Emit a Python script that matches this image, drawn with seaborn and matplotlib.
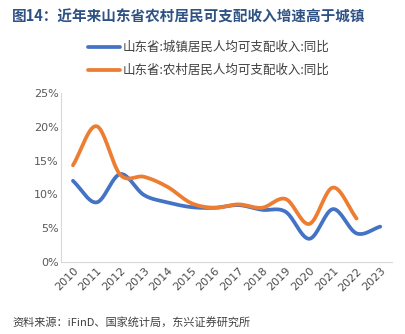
import numpy as np
import pandas as pd
import matplotlib
matplotlib.use("Agg")
import matplotlib.pyplot as plt
import seaborn as sns

years = [str(y) for y in range(2010, 2024)]
urban_growth = [12.0, 8.8, 13.0, 9.9, 8.8, 8.1, 8.0, 8.4, 7.7, 7.4, 3.4, 7.8, 4.2, 5.2]
rural_growth = [14.3, 20.1, 12.9, 12.6, 11.1, 8.7, 8.0, 8.5, 8.0, 9.3, 5.6, 11.0, 6.4, None]
urban_label = "山东省:城镇居民人均可支配收入:同比"
rural_label = "山东省:农村居民人均可支配收入:同比"
y_ticks = [0, 5, 10, 15, 20, 25]

sns.set_theme(style="white")
plt.rcParams["font.family"] = ["Noto Sans CJK SC", "DejaVu Sans"]


def smooth(values, steps=20):
    """Catmull-Rom curve through the points, like a smoothed office-chart line."""
    pts = [(i, v) for i, v in enumerate(values) if v is not None]
    xs = np.array([p[0] for p in pts], dtype=float)
    ys = np.array([p[1] for p in pts], dtype=float)
    px = np.concatenate([[2 * xs[0] - xs[1]], xs, [2 * xs[-1] - xs[-2]]])
    py = np.concatenate([[2 * ys[0] - ys[1]], ys, [2 * ys[-1] - ys[-2]]])
    out_x, out_y = [], []
    t = np.linspace(0, 1, steps, endpoint=False)
    for k in range(1, len(px) - 2):
        p0, p1, p2, p3 = py[k - 1], py[k], py[k + 1], py[k + 2]
        q0, q1, q2, q3 = px[k - 1], px[k], px[k + 1], px[k + 2]
        def cr(a0, a1, a2, a3):
            return 0.5 * ((2 * a1) + (-a0 + a2) * t + (2 * a0 - 5 * a1 + 4 * a2 - a3) * t ** 2
                          + (-a0 + 3 * a1 - 3 * a2 + a3) * t ** 3)
        out_x.extend(cr(q0, q1, q2, q3))
        out_y.extend(cr(p0, p1, p2, p3))
    out_x.append(xs[-1])
    out_y.append(ys[-1])
    return np.array(out_x), np.array(out_y)


frames = []
for label, vals in [(urban_label, urban_growth), (rural_label, rural_growth)]:
    sx, sy = smooth(vals)
    frames.append(pd.DataFrame({"x": sx, "y": sy, "series": label}))
df = pd.concat(frames, ignore_index=True)

fig = plt.figure(figsize=(4.05, 3.34), dpi=100)
ax = fig.add_axes([0.151, 0.2165, 0.817, 0.5045])

palette = {urban_label: "#4472C4", rural_label: "#ED7D31"}
sns.lineplot(data=df, x="x", y="y", hue="series", palette=palette, linewidth=2.7,
             sort=False, estimator=None, ax=ax, legend=False)

ax.set_xlim(-0.5, len(years) - 0.5)
ax.set_ylim(0, 25)
ax.set_xticks(range(len(years)))
ax.set_xticklabels(years, rotation=45, ha="right", rotation_mode="anchor",
                   fontsize=8, color="#4D4D4D", family="DejaVu Sans")
ax.set_yticks(y_ticks)
ax.set_yticklabels([f"{v}%" for v in y_ticks], fontsize=8, color="#595959", family="DejaVu Sans")
ax.tick_params(axis="both", length=0, pad=2)
ax.tick_params(axis="x", pad=3)
ax.set_xlabel("")
ax.set_ylabel("")
for side in ["top", "right"]:
    ax.spines[side].set_visible(False)
for side in ["left", "bottom"]:
    ax.spines[side].set_color("#D9D9D9")
    ax.spines[side].set_linewidth(0.8)

# legend drawn as two rows above the plot
for i, (label, color) in enumerate([(urban_label, "#4472C4"), (rural_label, "#ED7D31")]):
    yy = 1 - (47 + 23 * i) / 334
    fig.add_artist(plt.Line2D([88 / 405, 120 / 405], [yy, yy], color=color, linewidth=2.7,
                              transform=fig.transFigure))
    fig.text(123 / 405, yy, label, fontsize=9, color="#404040", va="center", ha="left")

fig.text(12 / 405, 1 - 17 / 334, "图14：近年来山东省农村居民可支配收入增速高于城镇",
         fontsize=10.5, fontweight="bold", color="#2E5283", va="center", ha="left")
fig.text(12 / 405, 1 - 322 / 334, "资料来源：iFinD、国家统计局，东兴证券研究所",
         fontsize=8, color="#404040", va="center", ha="left", style="italic")

fig.savefig("out.png", dpi=100)
